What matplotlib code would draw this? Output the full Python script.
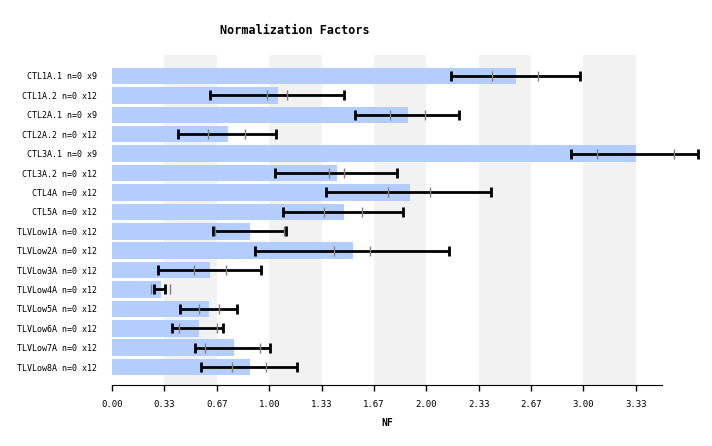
import matplotlib
matplotlib.use("Agg")
import matplotlib.pyplot as plt
import numpy as np

labels = ["CTL1A.1 n=0 x9", "CTL1A.2 n=0 x12", "CTL2A.1 n=0 x9", "CTL2A.2 n=0 x12",
          "CTL3A.1 n=0 x9", "CTL3A.2 n=0 x12", "CTL4A n=0 x12", "CTL5A n=0 x12",
          "TLVLow1A n=0 x12", "TLVLow2A n=0 x12", "TLVLow3A n=0 x12", "TLVLow4A n=0 x12",
          "TLVLow5A n=0 x12", "TLVLow6A n=0 x12", "TLVLow7A n=0 x12", "TLVLow8A n=0 x12"]
values = [2.57, 1.056, 1.883, 0.738, 3.333, 1.431, 1.896, 1.476,
          0.878, 1.533, 0.623, 0.312, 0.617, 0.553, 0.776, 0.878]
err_low = [2.155, 0.623, 1.546, 0.420, 2.924, 1.037, 1.359, 1.088,
           0.640, 0.910, 0.290, 0.265, 0.433, 0.382, 0.528, 0.566]
err_high = [2.977, 1.476, 2.207, 1.045, 3.728, 1.813, 2.411, 1.851,
            1.105, 2.144, 0.946, 0.339, 0.795, 0.704, 1.005, 1.177]
q_low = [2.420, 0.984, 1.771, 0.613, 3.087, 1.378, 1.754, 1.351,
         0.655, 1.414, 0.524, 0.246, 0.556, 0.428, 0.594, 0.765]
q_high = [2.714, 1.115, 1.993, 0.848, 3.577, 1.478, 2.025, 1.588,
          1.096, 1.640, 0.723, 0.371, 0.679, 0.668, 0.943, 0.982]
xticks = [0, 1/3, 2/3, 1, 4/3, 5/3, 2, 7/3, 8/3, 3, 10/3]
xticklabels = ["0.00", "0.33", "0.67", "1.00", "1.33", "1.67", "2.00", "2.33", "2.67", "3.00", "3.33"]

mono = "DejaVu Sans Mono"
fig = plt.figure(figsize=(7.12, 4.46), dpi=100)
ax = fig.add_axes([112/712, 1-385/446, 550/712, 330/446])

y = np.arange(len(labels))
for i in range(1, len(xticks) - 1, 2):
    ax.axvspan(xticks[i], xticks[i+1], color="#f2f2f2", zorder=0, lw=0)
ax.barh(y, values, height=0.85, color="#b3cdfe", zorder=1)
lo = np.array(err_low); hi = np.array(err_high)
ax.errorbar(lo, y, xerr=[np.zeros_like(lo), hi - lo], fmt="none", ecolor="black",
            elinewidth=2, capsize=3.6, capthick=2, zorder=3, clip_on=False)
ax.plot(q_low, y, ls="none", marker="|", ms=6.5, mew=1, color="#808080", zorder=4, clip_on=False)
ax.plot(q_high, y, ls="none", marker="|", ms=6.5, mew=1, color="#808080", zorder=4, clip_on=False)

ax.set_xlim(0, 3.5)
ax.set_ylim(15.92, -1.08)
ax.set_yticks(y)
ax.set_yticklabels(labels, family=mono, fontsize=6)
ax.set_xticks(xticks)
ax.set_xticklabels(xticklabels, family=mono, fontsize=6.5)
ax.tick_params(axis="y", length=0, pad=11)
ax.tick_params(axis="x", length=4, width=1, pad=7, color="black")
for s in ["top", "right", "left"]:
    ax.spines[s].set_visible(False)
ax.spines["bottom"].set_color("black")
ax.set_xlabel("NF", family=mono, fontsize=7, fontweight="bold", labelpad=6)
fig.text(220/712, 1-31/446, "Normalization Factors", family=mono, fontsize=8.5,
         fontweight="bold", ha="left", va="center")
fig.savefig("out.png", dpi=100)
